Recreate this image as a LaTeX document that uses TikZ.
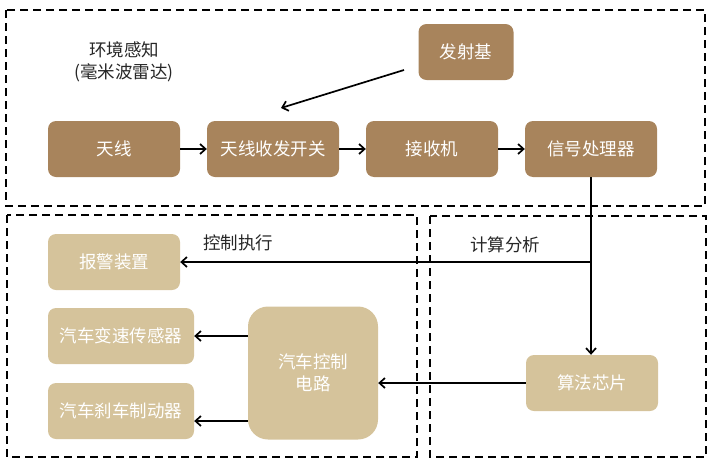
\documentclass[tikz,border=0pt]{standalone}
\usepackage{fontspec}
\setmainfont{Noto Sans CJK SC}
\usetikzlibrary{arrows.meta}
\definecolor{darktan}{RGB}{168,132,92}
\definecolor{lighttan}{RGB}{213,195,155}
\definecolor{labelgray}{RGB}{38,38,38}
\begin{document}
\begin{tikzpicture}[x=1pt,y=-1pt,
  dark/.style={fill=darktan,rounded corners=8pt,text=white,inner sep=0pt,align=center,
    minimum width=132pt,minimum height=56pt,font=\fontsize{17.5}{22}\selectfont},
  light/.style={dark,fill=lighttan},
  frame/.style={line width=1.7pt,dash pattern=on 8pt off 5pt},
  arr/.style={-{Straight Barb[length=5.5pt,width=10pt]},line width=1.7pt},
  lab/.style={text=labelgray,font=\fontsize{17.5}{22}\selectfont,align=center}]
\useasboundingbox (0,0) rectangle (711,463);
% dashed frames
\draw[frame] (6,10) rectangle (705,206);
\draw[frame] (7,215) rectangle (417,457);
\draw[frame] (430,216) rectangle (706,457);
% radar part
\node[lab](env) at (124,62){环境感知\\(毫米波雷达)};
\node[dark,minimum width=95pt](fa) at (466,52){发射基};
\node[dark](ant) at (114,149){天线};
\node[dark](sw) at (273,149){天线收发开关};
\node[dark](rx) at (432,149){接收机};
\node[dark](sp) at (591,149){信号处理器};
\coordinate (fa-out) at (404,70);
\coordinate (sw-in) at (281,108);
\draw[arr] (fa-out) -- (sw-in);
\draw[arr] (ant) -- (sw);
\draw[arr] (sw) -- (rx);
\draw[arr] (rx) -- (sp);
% execution part
\node[light](alarm) at (114,262){报警装置};
\node[light,minimum width=146pt](gear) at (121,336){汽车变速传感器};
\node[light,minimum width=146pt](brake) at (121,411){汽车刹车制动器};
\node[light,minimum width=130pt,minimum height=133pt,rounded corners=20pt](ctrl) at (313,373){汽车控制\\电路};
\node[light](alg) at (592,383){算法芯片};
\node[lab](exec) at (238,243){控制执行};
\node[lab](calc) at (505,245){计算分析};
\coordinate (split) at (sp.south |- alarm.east);
\draw[arr] (sp.south) -- (sp.south |- alg.north);
\draw[arr] (split) -- (alarm.east);
\draw[arr] (alg.west) -- (ctrl.east |- alg.west);
\draw[arr] (ctrl.west |- gear.east) -- (gear.east);
\draw[arr] (ctrl.west |- 0,421) -- (brake.east |- 0,421);
\end{tikzpicture}
\end{document}
